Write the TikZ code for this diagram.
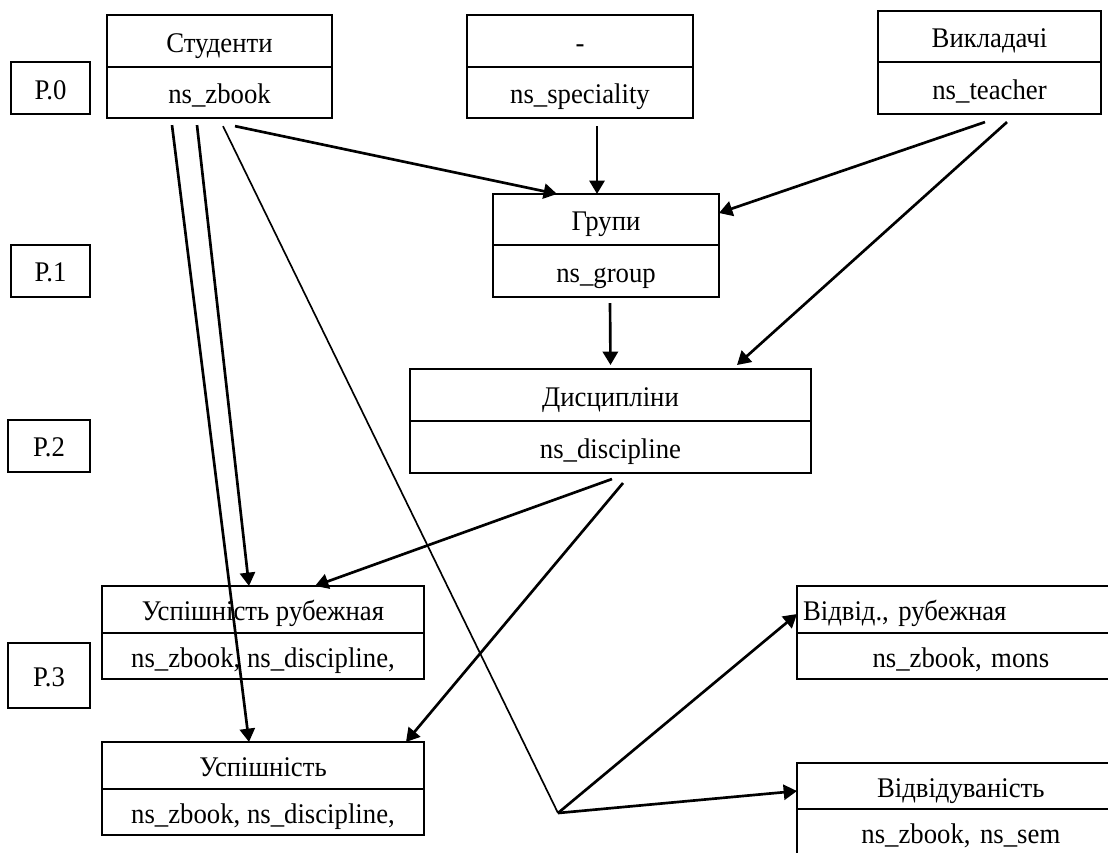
\documentclass[tikz,border=0pt]{standalone}
\usepackage{fontspec}
\setmainfont{Liberation Serif}[FakeStretch=0.94]
\usetikzlibrary{positioning,arrows.meta}

\begin{document}
\begin{tikzpicture}[
        x=0.45pt, y=-0.45pt,
        >={Triangle[length=6pt,width=6.8pt]},
        entity/.style={draw, line width=0.9pt, inner sep=0pt, outer sep=0pt, text height=11pt, text depth=1pt, font=\fontsize{12.8pt}{14pt}\selectfont},
        cutbox/.style={entity, text width=148.5pt, align=left},
        level/.style={entity, minimum width=35.6pt, minimum height=23.4pt},
        link/.style={->, line width=1.2pt},
        thinlink/.style={line width=0.75pt}
    ]
    \clip (0,0) rectangle (1108,852);

    % Level marks on the left
    \node[level] (lvl0) at (50.5,88) {P.0};
    \node[level] (lvl1) at (50.5,270.5) {P.1};
    \node[level, minimum width=36.9pt] (lvl2) at (49,445.5) {P.2};
    \node[level, minimum width=36.9pt, minimum height=29.3pt] (lvl3) at (49,675.5) {P.3};

    % Level 0: source tables
    \node[entity, minimum width=101.3pt, minimum height=23.4pt] (stud) at (219.5,41) {Студенти};
    \node[entity, minimum width=101.3pt, minimum height=23pt, below=0pt of stud] (studkey) {ns\_zbook};

    \node[entity, minimum width=101.7pt, minimum height=23.4pt] (spec) at (580,41) {-};
    \node[entity, minimum width=101.7pt, minimum height=23pt, below=0pt of spec] (speckey) {ns\_speciality};

    \node[entity, minimum width=100.4pt, minimum height=23pt] (teach) at (989.5,36.5) {Викладачі};
    \node[entity, minimum width=100.4pt, minimum height=23.4pt, below=0pt of teach] (teachkey) {ns\_teacher};

    % Level 1 and 2
    \node[entity, minimum width=101.7pt, minimum height=23pt] (group) at (606,219.5) {Групи};
    \node[entity, minimum width=101.7pt, minimum height=23.4pt, below=0pt of group] (groupkey) {ns\_group};

    \node[entity, minimum width=180.5pt, minimum height=23.4pt] (disc) at (610.5,395) {Дисципліни};
    \node[entity, minimum width=180.5pt, minimum height=23.4pt, below=0pt of disc] (disckey) {ns\_discipline};

    % Level 3: results
    \node[entity, minimum width=144.9pt, minimum height=21.2pt] (progr) at (263,609.5) {Успішність рубежная};
    \node[entity, minimum width=144.9pt, minimum height=20.7pt, below=0pt of progr] (progrkey) {ns\_zbook, ns\_discipline,};

    \node[entity, minimum width=144.9pt, minimum height=21.2pt] (prog) at (263,765.5) {Успішність};
    \node[entity, minimum width=144.9pt, minimum height=20.7pt, below=0pt of prog] (progkey) {ns\_zbook, ns\_discipline,};

    \node[cutbox, minimum height=21.2pt] (attr) at (962,609.5) {\hspace*{2.7pt}Відвід., рубежная};
    \node[cutbox, minimum height=20.7pt, below=0pt of attr] (attrkey) {\hspace*{34pt}ns\_zbook, mons};

    \node[cutbox, minimum height=20.7pt] (att) at (962,786) {\hspace*{36pt}Відвідуваність};
    \node[cutbox, minimum height=20.7pt, below=0pt of att] (attkey) {\hspace*{29pt}ns\_zbook, ns\_sem};

    \coordinate (fork) at (558,813);

    % Arrows between tables
    \draw[link] ([shift={(15.5,8)}]studkey.south) -- ([shift={(-49,0)}]group.north);
    \draw[link] ([shift={(-22.5,7)}]studkey.south) -- ([shift={(-14,0)}]progr.north);
    \draw[link] ([shift={(-47.5,7)}]studkey.south) -- ([shift={(-14,0)}]prog.north);
    \draw[thinlink] ([shift={(3.5,8)}]studkey.south) -- (fork);
    \draw[link] (fork) -- ([shift={(0,4.5)}]attr.west);
    \draw[link] (fork) -- ([shift={(0,5)}]att.west);

    \draw[link] ([shift={(17,8)}]speckey.south) -- ([shift={(-9,0)}]group.north);
    \draw[link] ([shift={(-4.5,8)}]teachkey.south) -- ([shift={(0,-6.5)}]group.east);
    \draw[link] ([shift={(17.5,8)}]teachkey.south) -- ([shift={(126.5,-4)}]disc.north);
    \draw[link] ([shift={(4,6)}]groupkey.south) -- ([shift={(0,-4)}]disc.north);

    \draw[link] ([shift={(1.5,6)}]disckey.south) -- ([shift={(52,0)}]progr.north);
    \draw[link] ([shift={(12.5,10)}]disckey.south) -- ([shift={(143,0)}]prog.north);

\end{tikzpicture}
\end{document}
